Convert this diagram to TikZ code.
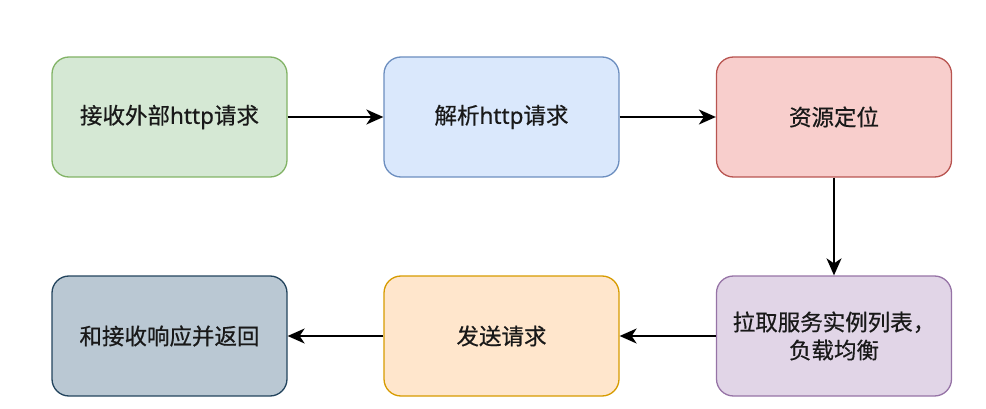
\documentclass[tikz,border=0pt]{standalone}
\usepackage{fontspec}
\setmainfont{Noto Sans CJK SC}[FakeBold=0.6]
\newfontfamily\latinf{Noto Sans}[FakeBold=0.6]
\usetikzlibrary{arrows.meta}
\definecolor{gfill}{HTML}{D5E8D4}\definecolor{gdraw}{HTML}{82B366}
\definecolor{bfill}{HTML}{DAE8FC}\definecolor{bdraw}{HTML}{6C8EBF}
\definecolor{rfill}{HTML}{F8CECC}\definecolor{rdraw}{HTML}{B85450}
\definecolor{pfill}{HTML}{E1D5E7}\definecolor{pdraw}{HTML}{9673A6}
\definecolor{ofill}{HTML}{FFE6CC}\definecolor{odraw}{HTML}{D79B00}
\definecolor{sfill}{HTML}{BAC8D3}\definecolor{sdraw}{HTML}{23445D}
\begin{document}
\begin{tikzpicture}[x=1pt,y=-1pt,
  box/.style={rounded corners=17pt,minimum width=235pt,minimum height=120pt,line width=1.3pt,inner sep=0pt,font=\fontsize{22.5}{28}\selectfont,align=center,text=black!90},
  conn/.style={line width=1.5pt,-{Stealth[length=17pt,width=15pt,inset=5pt]}}]
\useasboundingbox (0,0) rectangle (986,409);
\node[box,fill=gfill,draw=gdraw] (a) at (169.5,117) {接收外部{\latinf http}请求};
\node[box,fill=bfill,draw=bdraw] (b) at (501.5,117) {解析{\latinf http}请求};
\node[box,fill=rfill,draw=rdraw] (c) at (834,117) {资源定位};
\node[box,fill=pfill,draw=pdraw] (d) at (834,336) {拉取服务实例列表，\\负载均衡};
\node[box,fill=ofill,draw=odraw] (e) at (501.5,336) {发送请求};
\node[box,fill=sfill,draw=sdraw] (f) at (169.5,336) {和接收响应并返回};
\draw[conn] (a) -- (b);
\draw[conn] (b) -- (c);
\draw[conn] (c) -- (d);
\draw[conn] (d) -- (e);
\draw[conn] (e) -- (f);
\end{tikzpicture}
\end{document}
